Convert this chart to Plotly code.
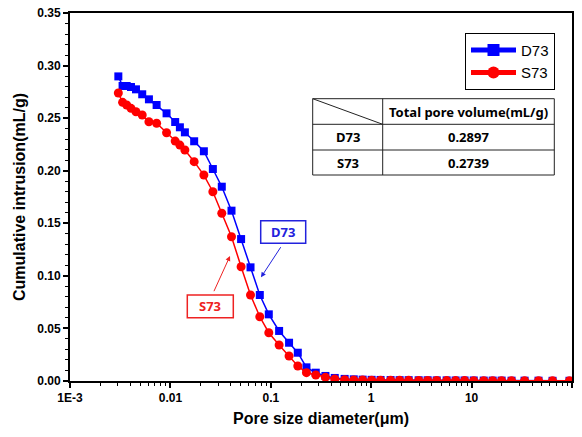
import plotly.graph_objects as go

# ---- data ----
pore_size = [0.00303, 0.00334, 0.00367, 0.00405, 0.00454, 0.00524, 0.00611, 0.00729,
             0.00916, 0.01116, 0.01243, 0.01394, 0.01725, 0.02154, 0.02648, 0.0325,
             0.0406, 0.0506, 0.0628, 0.0777, 0.0955, 0.121, 0.152, 0.1857, 0.2265,
             0.2805, 0.350, 0.4335, 0.544, 0.67, 0.822, 1.01, 1.24, 1.56, 1.92, 2.36,
             2.97, 3.65, 4.49, 5.64, 6.93, 8.51, 10.5, 13.2, 16.2, 19.9, 25.0, 33.7,
             46.4, 64.0, 94.4]
d73 = [0.2897, 0.2806, 0.2806, 0.2796, 0.2774, 0.2727, 0.2679, 0.2625,
       0.2546, 0.2463, 0.2413, 0.2365, 0.2280, 0.2185, 0.2016, 0.1848,
       0.1620, 0.1350, 0.1081, 0.0818, 0.0634, 0.0476, 0.0364, 0.0269, 0.0130,
       0.0079, 0.0048, 0.0029, 0.0020, 0.0016, 0.0013, 0.0011, 0.0010, 0.0009, 0.0008, 0.0008,
       0.0007, 0.0007, 0.0006, 0.0006, 0.0005, 0.0005, 0.0005, 0.0004, 0.0004, 0.0004, 0.0003, 0.0003,
       0.0003, 0.0002, 0.0002]
s73 = [0.2739, 0.2650, 0.2625, 0.2593, 0.2561, 0.2530, 0.2466, 0.2451,
       0.2361, 0.2282, 0.2244, 0.2197, 0.2086, 0.1959, 0.1800, 0.1595,
       0.1372, 0.1087, 0.0818, 0.0611, 0.0459, 0.0342, 0.0238, 0.0143, 0.0079,
       0.0057, 0.0035, 0.0019, 0.0012, 0.0010, 0.0009, 0.0008, 0.0007, 0.0007, 0.0006, 0.0006,
       0.0005, 0.0005, 0.0005, 0.0004, 0.0004, 0.0004, 0.0003, 0.0003, 0.0003, 0.0003, 0.0002, 0.0002,
       0.0002, 0.0002, 0.0002]
series_names = ["D73", "S73"]
table_header = "Total pore volume(mL/g)"
table_values = ["0.2897", "0.2739"]
x_tickvals = [0.001, 0.01, 0.1, 1, 10, 100]
x_ticktext = ["1E-3", "0.01", "0.1", "1", "10", "100"]
y_tickvals = [0, 0.05, 0.10, 0.15, 0.20, 0.25, 0.30, 0.35]

# ---- layout geometry ----
W, H = 582, 437
L, R, T, B = 70, 10, 13, 56
PW, PH = W - L - R, H - T - B


def px(x):
    return (x - L) / PW


def py(y):
    return (H - B - y) / PH


FONT = "Liberation Sans, Arial, sans-serif"
KFONT = "Noto Sans, Liberation Sans, sans-serif"

fig = go.Figure()
fig.add_trace(go.Scatter(x=pore_size, y=d73, name=series_names[0], mode="lines+markers",
                         line=dict(color="#0000FF", width=1.5),
                         marker=dict(symbol="square", size=8, color="#0000FF")))
fig.add_trace(go.Scatter(x=pore_size, y=s73, name=series_names[1], mode="lines+markers",
                         line=dict(color="#FF0000", width=1.5),
                         marker=dict(symbol="circle", size=9, color="#FF0000")))

shapes = []
annotations = []


def text_at(x, y, text, font):
    annotations.append(dict(xref="paper", yref="paper", x=px(x), y=py(y), text=text,
                            showarrow=False, xanchor="center", yanchor="middle", font=font))


# table
tx0, tx1, ty0, ty1 = 312.7, 554.3, 98.7, 175
cx = 382.7
r1, r2 = 124.3, 150
line = dict(color="#222222", width=1)
shapes.append(dict(type="rect", xref="paper", yref="paper", x0=px(tx0), x1=px(tx1),
                   y0=py(ty1), y1=py(ty0), line=line))
shapes.append(dict(type="line", xref="paper", yref="paper", x0=px(cx), x1=px(cx),
                   y0=py(ty1), y1=py(ty0), line=line))
for r in (r1, r2):
    shapes.append(dict(type="line", xref="paper", yref="paper", x0=px(tx0), x1=px(tx1),
                       y0=py(r), y1=py(r), line=line))
shapes.append(dict(type="line", xref="paper", yref="paper", x0=px(tx0), x1=px(cx),
                   y0=py(ty0), y1=py(r1), line=line))
tfont = dict(family=KFONT, size=13, color="black", weight="bold")
text_at((cx + tx1) / 2, (ty0 + r1) / 2, table_header, tfont)
for i, (yy0, yy1) in enumerate([(r1, r2), (r2, ty1)]):
    text_at((tx0 + cx) / 2, (yy0 + yy1) / 2, series_names[i], tfont)
    text_at((cx + tx1) / 2, (yy0 + yy1) / 2, table_values[i], tfont)

# labelled boxes with arrows
boxes = [
    (series_names[0], "#2222DD", (260.7, 220.7, 305.7, 243.3), (281.7, 245.7), (261, 277.3)),
    (series_names[1], "#EE2222", (187.3, 295, 233.3, 317.7), (213.3, 292.7), (230, 256)),
]
for name, col, (bx0, by0, bx1, by1), (sx, sy), (ex, ey) in boxes:
    shapes.append(dict(type="rect", xref="paper", yref="paper", x0=px(bx0), x1=px(bx1),
                       y0=py(by1), y1=py(by0), line=dict(color=col, width=1.5),
                       fillcolor="white"))
    text_at((bx0 + bx1) / 2, (by0 + by1) / 2, name,
            dict(family=KFONT, size=13, color=col, weight="bold"))
    annotations.append(dict(xref="paper", yref="paper", x=px(ex), y=py(ey), text="",
                            showarrow=True, arrowhead=2, arrowsize=1, arrowwidth=1,
                            arrowcolor=col, ax=sx - ex, ay=sy - ey))

fig.update_layout(
    width=W, height=H,
    margin=dict(l=L, r=R, t=T, b=B, pad=0, autoexpand=False),
    paper_bgcolor="white", plot_bgcolor="white",
    font=dict(family=FONT, color="black"),
    showlegend=True,
    legend=dict(x=px(555), y=py(32.7), xanchor="right", yanchor="top",
                bordercolor="black", borderwidth=1, bgcolor="white",
                font=dict(family=FONT, size=15, color="black"),
                itemsizing="constant", tracegroupgap=0, itemwidth=45),
    shapes=shapes,
    annotations=annotations,
)
fig.update_xaxes(type="log", range=[-3, 2], showgrid=False, zeroline=False, automargin=False,
                 showline=True, linecolor="black", linewidth=2, mirror=True,
                 ticks="outside", ticklen=5, tickwidth=1.5, tickcolor="black",
                 tickvals=x_tickvals, ticktext=x_ticktext,
                 tickfont=dict(family=FONT, size=12, weight="bold"),
                 minor=dict(ticks="outside", ticklen=3, tickwidth=1, tickcolor="black",
                            dtick="D1", showgrid=False),
                 title=dict(text="Pore size diameter(\u03bcm)",
                            font=dict(family=FONT, size=16, weight="bold"), standoff=8))
fig.update_yaxes(range=[0, 0.35], showgrid=False, zeroline=False, automargin=False,
                 showline=True, linecolor="black", linewidth=2, mirror=True,
                 ticks="outside", ticklen=5, tickwidth=1.5, tickcolor="black",
                 tickvals=y_tickvals, tickformat=".2f",
                 tickfont=dict(family=FONT, size=12, weight="bold"),
                 minor=dict(ticks="outside", ticklen=3, tickwidth=1, tickcolor="black",
                            dtick=0.01, showgrid=False),
                 title=dict(text="Cumulative intrusion(mL/g)",
                            font=dict(family=FONT, size=16, weight="bold"), standoff=8))

fig.write_html("out.html")
